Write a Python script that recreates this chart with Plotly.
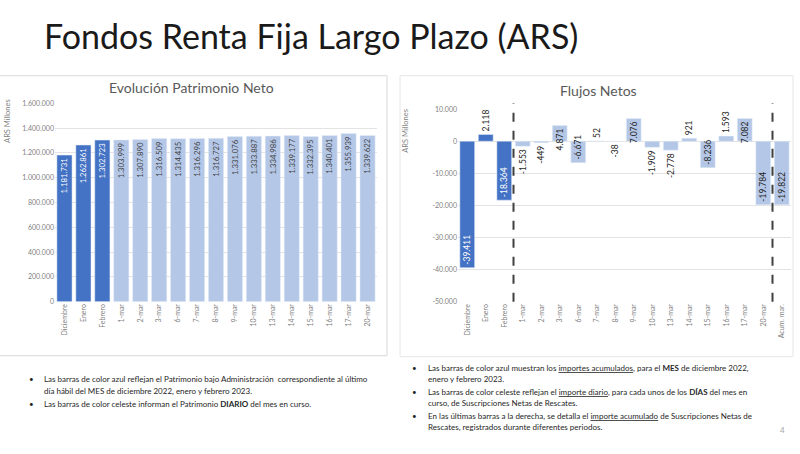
import plotly.graph_objects as go

W, H = 800, 454

# ---------------- data ----------------
month_cats = ["Diciembre", "Enero", "Febrero"]
day_cats = ["1-mar", "2-mar", "3-mar", "6-mar", "7-mar", "8-mar", "9-mar", "10-mar",
            "13-mar", "14-mar", "15-mar", "16-mar", "17-mar", "20-mar"]
acum_cats = ["Acum. mar."]

patrimonio_month = [1181731, 1262861, 1302723]
patrimonio_day = [1303999, 1307890, 1316509, 1314435, 1316296, 1316727, 1331076,
                  1333887, 1334986, 1339177, 1332395, 1340401, 1355939, 1339622]

flujos_month = [-39411, 2118, -18364]
flujos_day = [-1553, -449, 4871, -6671, 52, -38, 7076, -1909, -2778, 921, -8236,
              1593, 7082, -19784]
flujos_acum = [-19822]

left_yticks = [0, 200000, 400000, 600000, 800000, 1000000, 1200000, 1400000, 1600000]
right_yticks = [10000, 0, -10000, -20000, -30000, -40000, -50000]

main_title = "Fondos Renta Fija Largo Plazo (ARS)"
left_title = "Evolución Patrimonio Neto"
right_title = "Flujos Netos"
axis_title = "ARS Millones"

left_notes = [
    ("•", "Las barras de color azul reflejan el Patrimonio bajo Administración  correspondiente al último"),
    ("", "día hábil del MES de diciembre 2022, enero y febrero 2023."),
    ("•", "Las barras de color celeste informan el Patrimonio <b>DIARIO</b> del mes en curso."),
]
right_notes = [
    ("•", "Las barras de color azul muestran los <u>importes acumulados</u>, para el <b>MES</b> de diciembre 2022,"),
    ("", "enero y febrero 2023."),
    ("•", "Las barras de color celeste reflejan el <u>importe diario</u>, para cada unos de los <b>DÍAS</b> del mes en"),
    ("", "curso, de Suscripciones Netas de Rescates."),
    ("•", "En las últimas barras a la derecha, se detalla el <u>importe acumulado</u> de Suscripciones Netas de"),
    ("", "Rescates, registrados durante diferentes periodos."),
]
page_number = "4"


def fmt(v):
    return f"{v:,}".replace(",", ".")


DARK = "#4472C4"
LIGHT = "#B4C7E7"
FONT = "Lato"
GRID = "#E3E3E3"
TICK = "#7F7F7F"


def px(x):
    return x / W


def py(y):
    return 1 - y / H


fig = go.Figure()

# ---------- left chart ----------
fig.add_trace(go.Bar(
    x=month_cats, y=patrimonio_month, marker_color=DARK,
    text=[fmt(v) for v in patrimonio_month], textposition="inside",
    insidetextanchor="end", textangle=-90,
    textfont=dict(color="white", size=8.5, family=FONT),
    xaxis="x", yaxis="y", showlegend=False, hoverinfo="x+y"))
fig.add_trace(go.Bar(
    x=day_cats, y=patrimonio_day, marker_color=LIGHT,
    text=[fmt(v) for v in patrimonio_day], textposition="inside",
    insidetextanchor="end", textangle=-90,
    textfont=dict(color="#404040", size=8.5, family=FONT),
    xaxis="x", yaxis="y", showlegend=False, hoverinfo="x+y"))

# ---------- right chart ----------
for cats, vals, col, tcol in [(month_cats, flujos_month, DARK, "white"),
                              (day_cats, flujos_day, LIGHT, "#262626"),
                              (acum_cats, flujos_acum, LIGHT, "#262626")]:
    fig.add_trace(go.Bar(
        x=cats, y=vals, marker_color=col,
        text=[fmt(v) for v in vals], textposition="auto",
        insidetextanchor="end", textangle=-90, constraintext="none",
        insidetextfont=dict(color=tcol, size=8.5, family=FONT),
        outsidetextfont=dict(color="#262626", size=8.5, family=FONT),
        cliponaxis=False,
        xaxis="x2", yaxis="y2", showlegend=False, hoverinfo="x+y"))

left_cats = month_cats + day_cats
right_cats = month_cats + day_cats + acum_cats

axis_common = dict(tickfont=dict(size=7, color=TICK, family=FONT), showline=False,
                   zeroline=False, ticks="")

fig.update_layout(
    width=W, height=H, margin=dict(l=0, r=0, t=0, b=0),
    paper_bgcolor="white", plot_bgcolor="white",
    separators=",.", barmode="overlay", bargap=0.2,
    font=dict(family=FONT, color="#404040"),
    xaxis=dict(domain=[px(55), px(377)], anchor="y", categoryorder="array",
               categoryarray=left_cats, tickangle=-90, showgrid=False, **axis_common),
    yaxis=dict(domain=[py(302), py(100)], anchor="x", range=[0, 1600000],
               tickvals=left_yticks, ticktext=[fmt(v) for v in left_yticks],
               showgrid=True, gridcolor=GRID, gridwidth=1, **axis_common),
    xaxis2=dict(domain=[px(458), px(791)], anchor="free", position=py(302),
                categoryorder="array", categoryarray=right_cats, tickangle=-90,
                showgrid=False, **axis_common),
    yaxis2=dict(domain=[py(302), py(106)], anchor="x2", range=[-50000, 10000],
                tickvals=right_yticks, ticktext=[fmt(v) for v in right_yticks],
                showgrid=True, gridcolor=GRID, gridwidth=1, **axis_common),
)

shapes = [
    dict(type="rect", xref="paper", yref="paper", x0=px(-2), x1=px(387), y0=py(357), y1=py(72),
         line=dict(color="#D9D9D9", width=1), fillcolor="rgba(0,0,0,0)", layer="below"),
    dict(type="rect", xref="paper", yref="paper", x0=px(400), x1=px(793), y0=py(358), y1=py(72),
         line=dict(color="#E6E6E6", width=1), fillcolor="rgba(0,0,0,0)", layer="below"),
]
# dashed separators in right chart
for xv in [2.5, 16.5]:
    shapes.append(dict(type="line", xref="x2", yref="y2 domain", x0=xv, x1=xv, y0=0, y1=1.03,
                       line=dict(color="#404040", width=2, dash="dash")))
fig.update_layout(shapes=shapes)

ann = []


def note(text, x, y, size=8, color="#262626", anchor="left"):
    ann.append(dict(text=text, x=px(x), y=py(y), xref="paper", yref="paper",
                    xanchor=anchor, yanchor="middle", showarrow=False,
                    font=dict(size=size, color=color, family=FONT)))


note(main_title, 42, 31, size=34, color="#1A1A1A")
note(left_title, 191, 84, size=14, color="#595959", anchor="center")
note(right_title, 598, 87, size=14, color="#595959", anchor="center")
ann.append(dict(text=axis_title, x=px(8), y=py(118), xref="paper", yref="paper",
                xanchor="center", yanchor="middle", textangle=-90, showarrow=False,
                font=dict(size=7.5, color=TICK, family=FONT)))
ann.append(dict(text=axis_title, x=px(406), y=py(128), xref="paper", yref="paper",
                xanchor="center", yanchor="middle", textangle=-90, showarrow=False,
                font=dict(size=7.5, color=TICK, family=FONT)))

for (b, t), yy in zip(left_notes, [381, 393, 406]):
    if b:
        note(b, 27, yy)
    note(t, 42, yy)
for (b, t), yy in zip(right_notes, [370, 381, 394, 405, 418, 430]):
    if b:
        note(b, 410, yy)
    note(t, 426, yy)
note(page_number, 782, 433, color="#A6A6A6", anchor="center")
fig.update_layout(annotations=ann)

fig.write_html("out.html", config={"displayModeBar": False},
               post_script="document.body.style.margin='0';document.body.style.overflow='hidden';")
